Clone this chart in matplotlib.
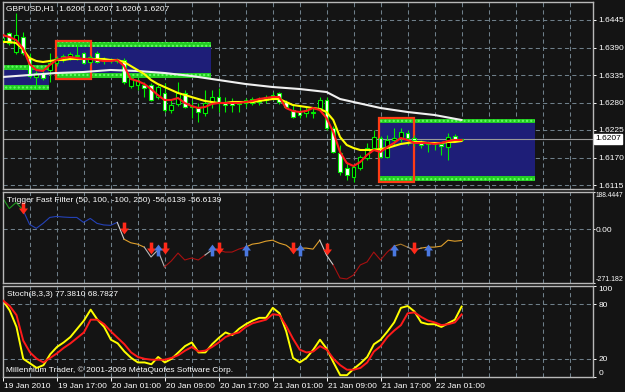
import matplotlib
matplotlib.use("Agg")
import matplotlib.pyplot as plt
import matplotlib.transforms as mtransforms
from matplotlib.patches import Rectangle
from matplotlib.path import Path

plt.rcParams['font.family'] = ['Liberation Sans', 'DejaVu Sans']

# GBPUSD H1 bars, bar 0 = 19 Jan 2010 09:00
symbol = 'GBPUSD,H1'
label_bars = [0, 8, 16, 24, 32, 40, 48, 56, 64]
time_labels = ['19 Jan 2010', '19 Jan 17:00', '20 Jan 01:00', '20 Jan 09:00', '20 Jan 17:00',
               '21 Jan 01:00', '21 Jan 09:00', '21 Jan 17:00', '22 Jan 01:00']

opens = [1.6405, 1.6419, 1.6381, 1.6411, 1.6369, 1.6331, 1.6339, 1.6345, 1.6359, 1.6365,
         1.6369, 1.6373, 1.6379, 1.6361, 1.6379, 1.6363, 1.6363, 1.6365, 1.6365, 1.6313,
         1.6315, 1.6315, 1.6315, 1.6291, 1.6299, 1.6265, 1.6277, 1.6299, 1.6271, 1.6269,
         1.6259, 1.6279, 1.6291, 1.6279, 1.6281, 1.6277, 1.6279, 1.6287, 1.6281, 1.6285,
         1.6289, 1.6299, 1.6281, 1.6265, 1.6261, 1.6259, 1.6259, 1.6269, 1.6285, 1.6229,
         1.6179, 1.6149, 1.6131, 1.6149, 1.6169, 1.6189, 1.6209, 1.6171, 1.6205, 1.6209,
         1.6219, 1.6209, 1.6199, 1.6197, 1.6199, 1.6197, 1.6191, 1.6213, 1.6206]
highs = [1.6413, 1.6421, 1.6459, 1.6421, 1.6379, 1.6343, 1.6345, 1.6379, 1.6373, 1.6377,
         1.6381, 1.6399, 1.6381, 1.6375, 1.6383, 1.6371, 1.6369, 1.6369, 1.6369, 1.6333,
         1.6329, 1.6321, 1.6319, 1.6315, 1.6319, 1.6285, 1.6321, 1.6305, 1.6285, 1.6279,
         1.6305, 1.6305, 1.6309, 1.6291, 1.6289, 1.6281, 1.6289, 1.6291, 1.6291, 1.6295,
         1.6301, 1.6301, 1.6285, 1.6275, 1.6271, 1.6271, 1.6269, 1.6291, 1.6291, 1.6233,
         1.6195, 1.6159, 1.6155, 1.6175, 1.6199, 1.6225, 1.6213, 1.6215, 1.6229, 1.6229,
         1.6225, 1.6215, 1.6205, 1.6203, 1.6201, 1.6199, 1.6219, 1.6217, 1.6207]
lows = [1.6397, 1.6395, 1.6377, 1.6375, 1.6329, 1.6309, 1.6325, 1.6321, 1.6353, 1.6361,
        1.6365, 1.6365, 1.6357, 1.6357, 1.6359, 1.6357, 1.6359, 1.6359, 1.6317, 1.6309,
        1.6305, 1.6291, 1.6283, 1.6287, 1.6261, 1.6259, 1.6273, 1.6269, 1.6249, 1.6241,
        1.6253, 1.6269, 1.6261, 1.6261, 1.6261, 1.6261, 1.6271, 1.6275, 1.6275, 1.6279,
        1.6285, 1.6277, 1.6269, 1.6249, 1.6249, 1.6251, 1.6249, 1.6265, 1.6225, 1.6179,
        1.6135, 1.6125, 1.6121, 1.6145, 1.6165, 1.6185, 1.6169, 1.6169, 1.6195, 1.6201,
        1.6195, 1.6193, 1.6189, 1.6181, 1.6185, 1.6175, 1.6165, 1.6201, 1.6206]
closes = [1.6409, 1.6399, 1.6415, 1.6379, 1.6333, 1.6339, 1.6329, 1.6359, 1.6369, 1.6373,
          1.6377, 1.6375, 1.6359, 1.6371, 1.6361, 1.6367, 1.6365, 1.6363, 1.6321, 1.6329,
          1.6325, 1.6309, 1.6285, 1.6311, 1.6265, 1.6275, 1.6299, 1.6271, 1.6273, 1.6261,
          1.6279, 1.6291, 1.6279, 1.6275, 1.6275, 1.6279, 1.6285, 1.6279, 1.6283, 1.6291,
          1.6295, 1.6281, 1.6271, 1.6251, 1.6255, 1.6265, 1.6261, 1.6285, 1.6229, 1.6181,
          1.6141, 1.6135, 1.6151, 1.6171, 1.6189, 1.6211, 1.6171, 1.6205, 1.6209, 1.6221,
          1.6209, 1.6205, 1.6195, 1.6199, 1.6197, 1.6193, 1.6211, 1.6207, 1.6207]

# moving averages
ma_fast = [1.6415, 1.6411, 1.6405, 1.6389, 1.6357, 1.6345, 1.6343, 1.6355, 1.6365, 1.6369,
           1.6371, 1.6369, 1.6367, 1.6367, 1.6365, 1.6363, 1.6363, 1.6365, 1.6353, 1.6327,
           1.6323, 1.6317, 1.6307, 1.6295, 1.6285, 1.6285, 1.6289, 1.6279, 1.6273, 1.6269,
           1.6271, 1.6277, 1.6279, 1.6279, 1.6279, 1.6279, 1.6281, 1.6283, 1.6287, 1.6289,
           1.6291, 1.6291, 1.6269, 1.6263, 1.6261, 1.6263, 1.6269, 1.6265, 1.6249, 1.6221,
           1.6181, 1.6159, 1.6153, 1.6161, 1.6175, 1.6185, 1.6181, 1.6191, 1.6199, 1.6209,
           1.6205, 1.6199, 1.6199, 1.6199, 1.6197, 1.6199, 1.6203, 1.6205, 1.6205]
ma_slow = [1.6401, 1.6401, 1.6399, 1.6387, 1.6369, 1.6363, 1.6361, 1.6363, 1.6365, 1.6365,
           1.6367, 1.6367, 1.6367, 1.6367, 1.6367, 1.6367, 1.6365, 1.6365, 1.6361, 1.6353,
           1.6345, 1.6337, 1.6325, 1.6317, 1.6311, 1.6305, 1.6299, 1.6295, 1.6291, 1.6287,
           1.6283, 1.6281, 1.6279, 1.6279, 1.6281, 1.6281, 1.6281, 1.6281, 1.6283, 1.6285,
           1.6287, 1.6287, 1.6281, 1.6275, 1.6273, 1.6271, 1.6269, 1.6267, 1.6261, 1.6245,
           1.6211, 1.6195, 1.6189, 1.6185, 1.6185, 1.6185, 1.6187, 1.6189, 1.6193, 1.6197,
           1.6199, 1.6201, 1.6201, 1.6199, 1.6199, 1.6199, 1.6201, 1.6201, 1.6203]
ma_long_bars = [0, 4, 8, 12, 16, 20, 24, 28, 32, 36, 40, 44, 48, 50, 52, 56, 60, 64, 68]
ma_long = [1.6331, 1.6335, 1.6339, 1.6341, 1.6345, 1.6343, 1.6339, 1.6333, 1.6325, 1.6317,
           1.6311, 1.6307, 1.6301, 1.6287, 1.6281, 1.6269, 1.6261, 1.6255, 1.6245]

# zones: (first bar, last bar, low, high)
zones_blue = [(0.07, 6.9, 1.6315, 1.6346), (7.8, 30.9, 1.6339, 1.6391), (55.9, 78.9, 1.6133, 1.6239)]
zones_green = [(0.07, 6.9, 1.6346, 1.6355), (0.07, 6.9, 1.6305, 1.6315),
               (7.8, 30.9, 1.6391, 1.6401), (7.8, 30.9, 1.6329, 1.6339),
               (55.9, 78.9, 1.6239, 1.6247), (55.9, 78.9, 1.6123, 1.6133)]
boxes_red = [(7.9, 13.1, 1.6327, 1.6403), (55.8, 61.0, 1.6121, 1.6249)]

# Trigger Fast Filter (50, 100, -100, 250)
trigger = [160, 105, 135, 100, 25, 5, 30, 60, 65, 62,
           60, 60, 35, 55, 30, 22, 20, 35, -50, -68,
           -75, -90, -140, -105, -190, -160, -120, -155, -145, -155,
           -130, -105, -105, -115, -115, -100, -90, -75, -70, -60,
           -55, -70, -80, -105, -95, -95, -100, -55, -130, -180,
           -246, -251, -231, -180, -165, -115, -155, -115, -85, -75,
           -90, -105, -95, -90, -90, -85, -55, -60, -56.6139]
trigger_segments = [(0, 3, '#1f9a1f'), (3, 17, '#2442b8'), (17, 18, '#d0d0d0'), (18, 21, '#e0a02c'),
                    (21, 24, '#b8b8b8'), (24, 30, '#a81010'), (30, 31, '#b8b8b8'), (31, 36, '#a81010'),
                    (36, 47, '#e0a02c'), (47, 49, '#d0d0d0'), (49, 58, '#a81010'), (58, 60, '#a8782a'),
                    (60, 62, '#a0a0a0'), (62, 68, '#e0a02c')]
sell_bars = [3, 18, 22, 24, 32, 43, 48, 61]
sell_vals = [108, 5, -95, -95, -95, -95, -100, -95]
buy_bars = [23, 31, 36, 44, 58, 63]
buy_vals = [-105, -105, -105, -105, -105, -105]

# Stoch(8,3,3)
stoch_main = [84, 73, 55, 20, 15, 10, 13, 25, 33, 38,
              44, 53, 62, 74, 63, 55, 41, 37, 28, 21,
              16, 16, 14, 22, 16, 20, 27, 34, 38, 27,
              27, 36, 43, 49, 46, 53, 58, 62, 65, 65,
              76, 70, 50, 21, 16, 21, 30, 41, 31, 16,
              2, 2, 9, 15, 22, 36, 41, 50, 60, 76,
              78, 72, 60, 58, 58, 55, 59, 63, 77.3810]
stoch_signal = [84, 78, 68, 40, 27, 20, 16, 21, 26, 32,
                37, 43, 49, 63, 63, 58, 50, 43, 36, 27,
                22, 20, 19, 19, 19, 21, 24, 29, 33, 28,
                29, 33, 38, 44, 47, 49, 55, 59, 61, 63,
                69, 68, 56, 42, 30, 27, 28, 34, 30, 20,
                13, 8, 8, 10, 16, 28, 34, 44, 51, 57,
                70, 71, 66, 62, 60, 57, 58, 60, 68.7827]

bg = '#141414'
grid_c = '#6f7f8a'
frame_c = '#b8b8b8'
fs = 6

W, H = 625.0, 392.0
fig = plt.figure(figsize=(6.25, 3.92), dpi=100, facecolor=bg)


def panel(top, bottom):
    ax = fig.add_axes([3 / W, 1 - bottom / H, 590 / W, (bottom - top) / H])
    ax.set_facecolor(bg)
    for s in ax.spines.values():
        s.set_color(frame_c)
        s.set_linewidth(1)
    ax.set_xlim(0.07, 87.48)
    ax.yaxis.tick_right()
    ax.tick_params(axis='y', colors='white', labelsize=fs, length=2.5, width=0.7, pad=1.5)
    ax.tick_params(axis='x', bottom=False, labelbottom=False)
    for b in range(4, 88, 4):
        ax.axvline(b, color=grid_c, lw=0.75, ls=(0, (4, 3)), zorder=0)
    return ax


ax1 = panel(2, 189)
ax2 = panel(192, 283)
ax3 = panel(286, 377)

# ---- main price panel
ax1.set_ylim(1.6107, 1.6481)
price_ticks = [1.6445, 1.6390, 1.6335, 1.6280, 1.6225, 1.6170, 1.6115]
ax1.set_yticks(price_ticks)
ax1.set_yticklabels(['%.4f' % p for p in price_ticks])
for p in price_ticks:
    ax1.axhline(p, color=grid_c, lw=0.75, ls=(0, (4, 3)), zorder=0)

for x0, x1, lo, hi in zones_blue:
    ax1.add_patch(Rectangle((x0, lo), x1 - x0, hi - lo, facecolor='#1e1e78', lw=0, zorder=1))
for x0, x1, lo, hi in zones_green:
    ax1.add_patch(Rectangle((x0, lo), x1 - x0, hi - lo, facecolor='#22cc22', edgecolor='#66ff66',
                            hatch='....', lw=0, zorder=1.1))
for x0, x1, lo, hi in boxes_red:
    ax1.add_patch(Rectangle((x0, lo), x1 - x0, hi - lo, facecolor='none', edgecolor='#ff3c14',
                            lw=1.6, zorder=1.2))

last_close = closes[-1]
ax1.axhline(last_close, color='#9a9a9a', lw=0.8, zorder=1.5)

bars = list(range(len(opens)))
ax1.vlines(bars, lows, highs, color='#00ee00', lw=0.8, zorder=2)
body_h = [c - o for o, c in zip(opens, closes)]
body_c = ['black' if c > o else 'white' for o, c in zip(opens, closes)]
ax1.bar(bars, body_h, bottom=opens, width=0.58, color=body_c, edgecolor='#00ee00', lw=0.8, zorder=3)

ax1.plot(ma_long_bars, ma_long, color='#f0f0f0', lw=1.5, zorder=4)
ax1.plot(bars, ma_slow, color='#ffff00', lw=1.5, zorder=5)
ax1.plot(bars, ma_fast, color='#ff1a1a', lw=1.5, zorder=6)

ax1.text(0.0055, 0.965, '%s  %.4f %.4f %.4f %.4f' % (symbol, opens[-1], highs[-1], lows[-1], closes[-1]),
         transform=ax1.transAxes, color='white', fontsize=fs, ha='left', va='center')
tr1 = mtransforms.blended_transform_factory(ax1.transAxes, ax1.transData)
ax1.text(1.004, last_close, '%.4f' % last_close, transform=tr1, color='black', fontsize=fs,
         ha='left', va='center', bbox=dict(facecolor='white', edgecolor='white', pad=0.9))

# ---- trigger panel
tmax, tmin = 188.4447, -271.182
ax2.set_ylim(tmin, tmax)
ax2.set_yticks([tmax, 0, tmin])
ax2.set_yticklabels(['%.4f' % tmax, '0.00', '%.3f' % tmin])
ax2.tick_params(axis='y', length=1.5, pad=0.6)
tl = ax2.get_yticklabels()
tl[0].set_va('top')
tl[2].set_va('bottom')
tl[0].set_fontsize(4.8)
tl[2].set_fontsize(5.0)
ax2.axhline(0, color=grid_c, lw=0.75, ls=(0, (4, 3)), zorder=0)
for s, e, c in trigger_segments:
    ax2.plot(range(s, e + 1), trigger[s:e + 1], color=c, lw=0.8, zorder=2)

down = Path([(-0.15, 0.5), (0.15, 0.5), (0.15, 0.0), (0.38, 0.0), (0, -0.5), (-0.38, 0.0),
             (-0.15, 0.0), (-0.15, 0.5)],
            [Path.MOVETO] + [Path.LINETO] * 6 + [Path.CLOSEPOLY])
up = Path([(x, -y) for x, y in down.vertices], down.codes)
ax2.plot(sell_bars, sell_vals, ls='none', marker=down, ms=8.5, color='#ff2a1a', mew=0, zorder=3)
ax2.plot(buy_bars, buy_vals, ls='none', marker=up, ms=8.5, color='#4a78e0', mew=0, zorder=3)
ax2.text(0.007, 0.91, 'Trigger Fast Filter (50, 100, -100, 250) %.4f %.4f' % (trigger[-1], trigger[-1]),
         transform=ax2.transAxes, color='white', fontsize=fs, ha='left', va='center', zorder=4)

# ---- stochastic panel
ax3.set_ylim(0, 100)
ax3.set_yticks([100, 80, 20, 0])
ax3.set_yticklabels(['100', '80', '20', '0'])
tl = ax3.get_yticklabels()
tl[0].set_va('top')
tl[3].set_va('bottom')
for lvl in (80, 20):
    ax3.axhline(lvl, color=grid_c, lw=0.75, ls=(0, (4, 3)), zorder=0)
ax3.plot(bars, stoch_main, color='#ffff00', lw=1.4, zorder=2)
ax3.plot(bars, stoch_signal, color='#ff1a1a', lw=1.4, zorder=3)
ax3.text(0.006, 0.91, 'Stoch(8,3,3) %.4f %.4f' % (stoch_main[-1], stoch_signal[-1]),
         transform=ax3.transAxes, color='white', fontsize=fs, ha='left', va='center')
ax3.text(0.005, 0.08, 'Millennium Trader, \u00a9 2001-2009 MetaQuotes Software Corp.',
         transform=ax3.transAxes, color='white', fontsize=fs, ha='left', va='center')

ax3.tick_params(axis='x', bottom=True, colors='white', length=3, width=0.7)
ax3.set_xticks(label_bars)
ax3.set_xticklabels([])
tr3 = mtransforms.blended_transform_factory(ax3.transData, ax3.transAxes)
for b, lab in zip(label_bars, time_labels):
    ax3.text(b + 0.2, -0.1, lab, transform=tr3, color='white', fontsize=fs, ha='left', va='center')

fig.savefig('out.png', dpi=100, facecolor=bg)
